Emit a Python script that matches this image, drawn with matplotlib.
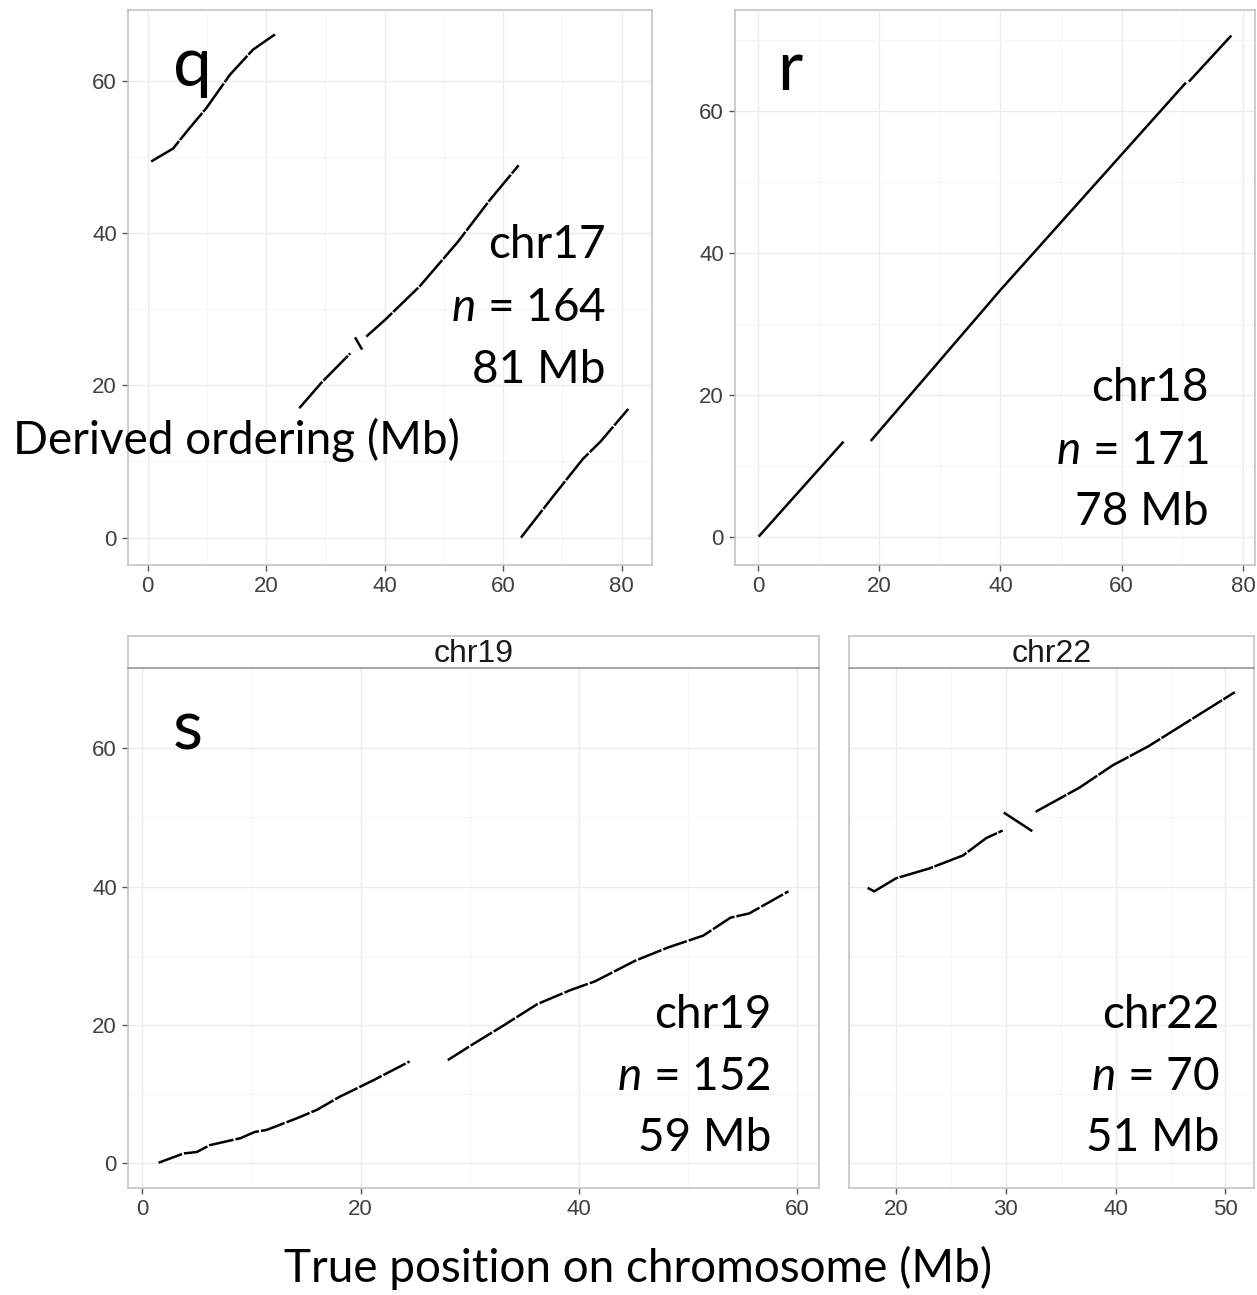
import numpy as np
import matplotlib
matplotlib.use("Agg")
import matplotlib.pyplot as plt

nan = np.nan

# ---------------- data ----------------
# chr17 (panel q): three forward segments + one small inverted piece
chr17_x = [0.6, 4.3, 7.1, 9.9, 13.9, 17.8, 21.5, nan,
           25.6, 29.4, 34.2, nan,
           35.0, 36.2, nan,
           36.9, 40.2, 45.9, 52.3, 57.7, 62.6, nan,
           63.0, 68.0, 73.4, 76.4, 81.1]
chr17_y = [49.4, 51.1, 53.8, 56.4, 60.8, 64.1, 66.1, nan,
           17.0, 20.4, 24.2, nan,
           26.3, 24.7, nan,
           26.4, 28.7, 33.0, 38.8, 44.3, 48.9, nan,
           0.0, 5.0, 10.3, 12.6, 16.9]

# chr18 (panel r)
chr18_x = [0.1, 14.1, nan, 18.6, 40.0, 70.6, nan, 71.1, 78.1]
chr18_y = [0.0, 13.4, nan, 13.5, 34.8, 64.05, nan, 64.2, 70.7]

# chr19 (panel s, left)
chr19_x = [1.5, 3.8, 5.0, 6.2, 9.0, 10.3, 11.4, 14.2, 16.0, 18.1, 21.2, 24.5, nan,
           28.0, 30.2, 33.2, 36.2, 39.2, 41.5, 45.2, 48.2, 51.4, 53.9, 55.6, 59.2]
chr19_y = [0.05, 1.4, 1.6, 2.6, 3.6, 4.5, 4.8, 6.5, 7.7, 9.6, 12.0, 14.7, nan,
           14.9, 17.1, 20.0, 23.0, 25.0, 26.3, 29.3, 31.2, 32.9, 35.5, 36.1, 39.3]

# chr22 (panel s, right)
chr22_x = [17.4, 18.0, 20.0, 23.0, 26.1, 28.2, 29.7, nan,
           29.8, 32.4, nan,
           32.7, 36.7, 39.7, 43.0, 50.85]
chr22_y = [39.8, 39.3, 41.2, 42.6, 44.5, 47.0, 48.1, nan,
           50.7, 48.0, nan,
           50.8, 54.3, 57.5, 60.3, 68.1]

ticks_top_x = [0, 20, 40, 60, 80]
ticks_y = [0, 20, 40, 60]
ticks_19_x = [0, 20, 40, 60]
ticks_22_x = [20, 30, 40, 50]

# ---------------- style ----------------
plt.rcParams['mathtext.fontset'] = 'custom'
plt.rcParams['mathtext.it'] = 'Lato:italic'
plt.rcParams['mathtext.rm'] = 'Lato'

W, H = 1257, 1295
fig = plt.figure(figsize=(W / 100, H / 100), dpi=100)
fig.patch.set_facecolor('white')

BORDER = '#c4c4c4'
MAJ = '#ececec'
MINR = '#f6f6f6'
TICKC = '#404040'
TICK_FONT = 'Liberation Sans'
BIG_FONT = 'Lato'


def ax_at(l, t, r, b):
    return fig.add_axes([l / W, 1 - b / H, (r - l) / W, (b - t) / H])


def style(ax, xlim, ylim, xt, yt, xminor, yminor, ylabels=True):
    ax.set_xlim(*xlim)
    ax.set_ylim(*ylim)
    ax.set_xticks(xt)
    ax.set_yticks(yt)
    ax.set_xticks(xminor, minor=True)
    ax.set_yticks(yminor, minor=True)
    ax.grid(True, which='major', color=MAJ, lw=1.0, zorder=0)
    ax.grid(True, which='minor', color=MINR, lw=0.8, zorder=0)
    ax.set_axisbelow(True)
    for s in ax.spines.values():
        s.set_color(BORDER)
        s.set_linewidth(1.2)
    ax.tick_params(which='major', length=4, width=1, color='#555555',
                   labelsize=16, labelcolor=TICKC, pad=4)
    ax.tick_params(which='minor', length=0)
    for lab in ax.get_xticklabels() + ax.get_yticklabels():
        lab.set_fontfamily(TICK_FONT)
    if not ylabels:
        ax.tick_params(axis='y', which='major', length=0, labelleft=False)


LW = 1.8
DASH = (14, 0.6)

# panel q
axq = ax_at(128, 10, 652, 565)
style(axq, (-3.3, 85.1), (-3.6, 69.3), ticks_top_x, ticks_y, [10, 30, 50, 70], [10, 30, 50])
axq.plot(chr17_x, chr17_y, color='black', lw=LW, dashes=DASH)

# panel r
axr = ax_at(735, 10, 1255, 565)
style(axr, (-3.8, 82.0), (-4.0, 74.3), ticks_top_x, ticks_y, [10, 30, 50, 70], [10, 30, 50, 70])
axr.plot(chr18_x, chr18_y, color='black', lw=LW, solid_capstyle='butt')

# panel s: chr19
ylim_s = (-3.6, 71.6)
ax19 = ax_at(128, 668, 819, 1188)
style(ax19, (-1.3, 62.0), ylim_s, ticks_19_x, ticks_y, [10, 30, 50], [10, 30, 50])
ax19.plot(chr19_x, chr19_y, color='black', lw=LW, dashes=(10, 0.8))

# panel s: chr22
ax22 = ax_at(849, 668, 1254, 1188)
style(ax22, (15.7, 52.6), ylim_s, ticks_22_x, ticks_y, [25, 35, 45], [10, 30, 50], ylabels=False)
ax22.plot(chr22_x, chr22_y, color='black', lw=LW, dashes=DASH)

# strips
for (l, r, lab) in [(128, 819, 'chr19'), (849, 1254, 'chr22')]:
    sax = ax_at(l, 636, r, 668)
    sax.set_xticks([])
    sax.set_yticks([])
    sax.set_facecolor('white')
    for s in sax.spines.values():
        s.set_color(BORDER)
        s.set_linewidth(1.2)
    sax.spines['bottom'].set_color('#999999')
    sax.text(0.5, 0.45, lab, transform=sax.transAxes, ha='center', va='center',
             fontsize=23, family=TICK_FONT, color='#1a1a1a')


def ftext(x, y, s, size=33, ha='right'):
    fig.text(x / W, 1 - y / H, s, ha=ha, va='center', fontsize=size,
             family=BIG_FONT, color='black')


# panel letters
ftext(192, 66, 'q', size=50, ha='center')
ftext(790, 70, 'r', size=50, ha='center')
ftext(188, 730, 's', size=50, ha='center')

# annotations
for (xr, ys, lines) in [
        (606, (245, 308, 370), ('chr17', '$n$ = 164', '81 Mb')),
        (1209, (388, 451, 512), ('chr18', '$n$ = 171', '78 Mb')),
        (771, (1015, 1077, 1138), ('chr19', '$n$ = 152', '59 Mb')),
        (1219, (1015, 1077, 1138), ('chr22', '$n$ = 70', '51 Mb'))]:
    for yy, s in zip(ys, lines):
        ftext(xr, yy, s)

# axis titles
ftext(236, 440, 'Derived ordering (Mb)', ha='center')
ftext(638, 1268, 'True position on chromosome (Mb)', ha='center')

fig.savefig('out.png', dpi=100, facecolor='white')
